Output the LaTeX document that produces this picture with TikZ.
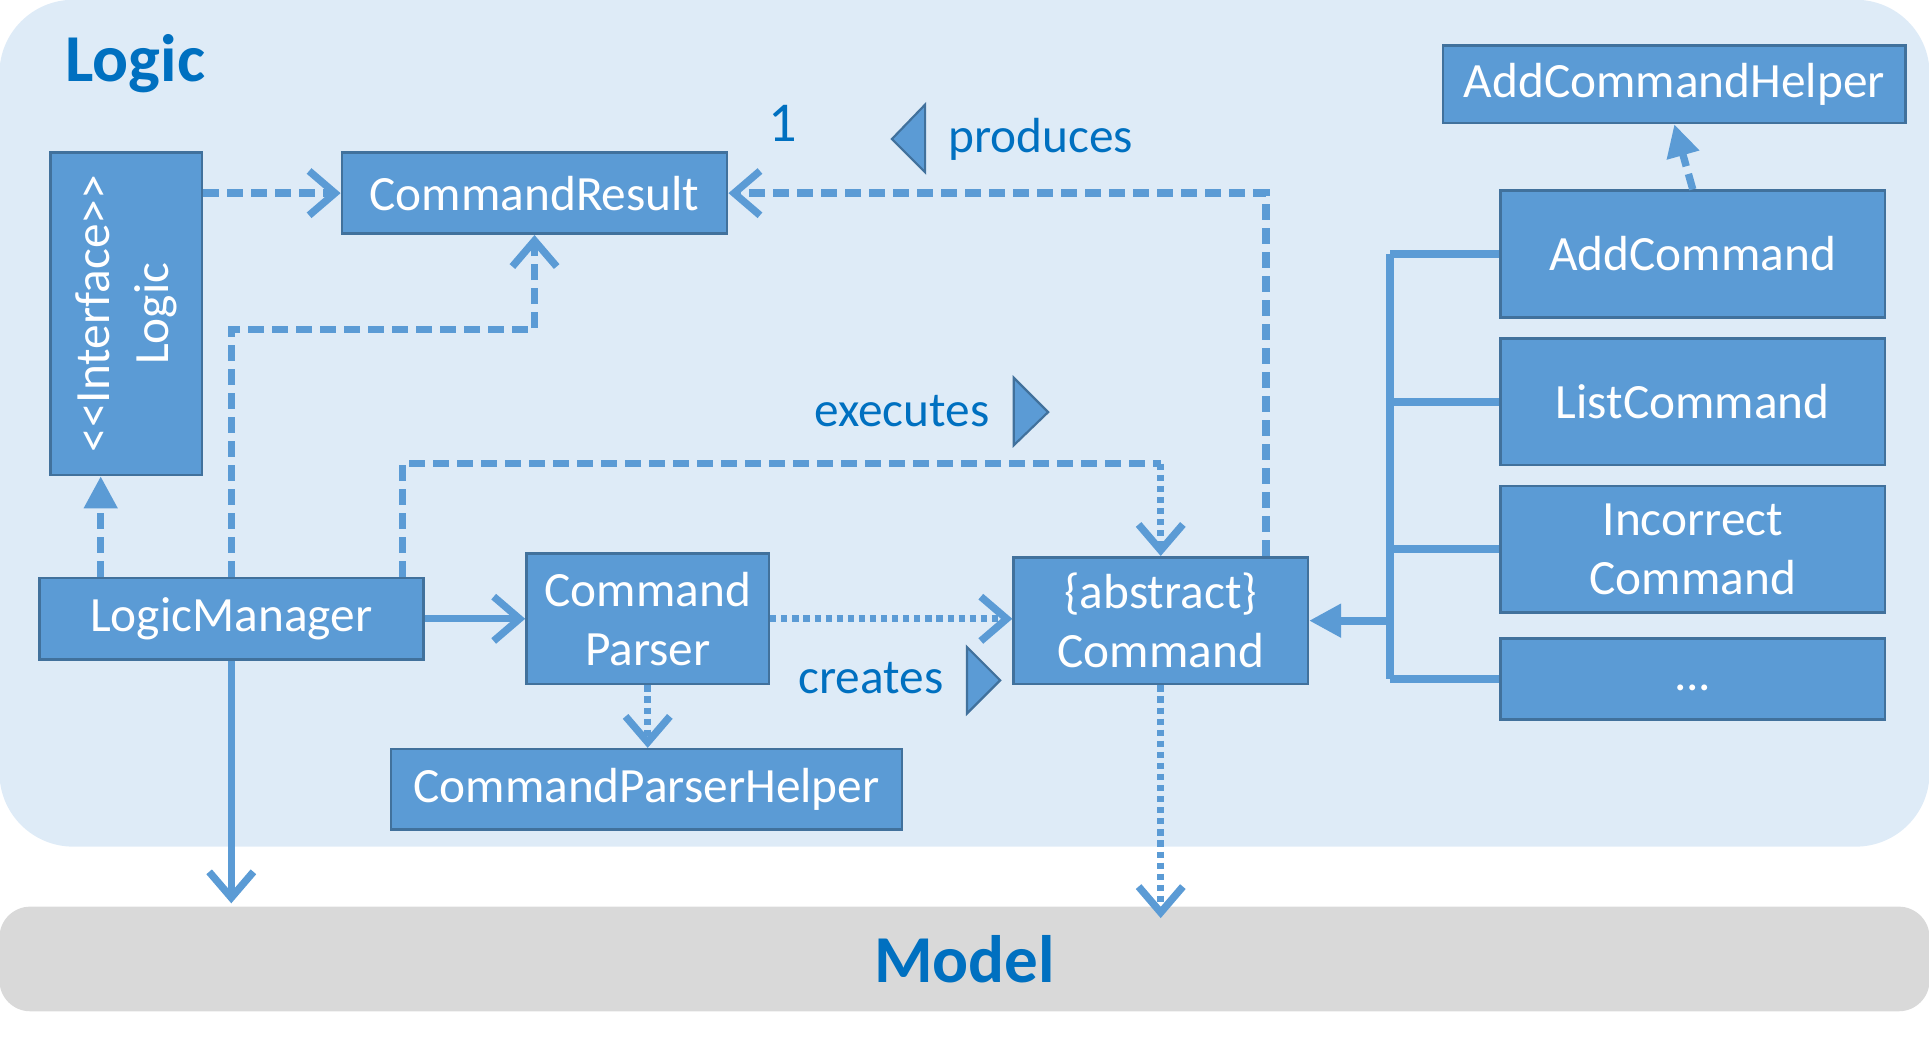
\documentclass[tikz,border=0pt]{standalone}
\usepackage{fontspec}
\setmainfont{Carlito}
\usetikzlibrary{arrows.meta, calc, positioning}
\definecolor{pkgBlue}{HTML}{DEEBF7}
\definecolor{boxBlue}{HTML}{5B9BD5}
\definecolor{boxEdge}{HTML}{41719C}
\definecolor{textBlue}{HTML}{0070C0}
\definecolor{modelGray}{HTML}{D9D9D9}

\begin{document}
\begin{tikzpicture}[x=0.01cm, y=-0.01cm,
    cls/.style={draw=boxEdge, line width=0.6pt, fill=boxBlue, text=white, align=center, inner sep=1mm, font=\fontsize{11.4}{13.7}\selectfont},
    lbl/.style={text=textBlue, font=\fontsize{11.4}{13.7}\selectfont},
    title/.style={text=textBlue, font=\fontsize{15.5}{18}\selectfont\bfseries},
    conn/.style={boxBlue, line width=1.7pt},
    dep/.style={conn, dash pattern=on 1.3mm off 0.65mm, -{Straight Barb[length=2.1mm,width=3.6mm]}},
    dotdep/.style={conn, dash pattern=on 0.5mm off 0.4mm, -{Straight Barb[length=2.1mm,width=3.6mm]}},
    assoc/.style={conn, -{Straight Barb[length=2.1mm,width=3.6mm]}},
    real/.style={conn, dash pattern=on 1.3mm off 0.65mm, -{Triangle[length=2.6mm,width=2.6mm]}},
    inh/.style={conn, line width=1.8pt},
    dirtri/.style={fill=boxBlue, draw=boxEdge, line width=0.5pt}]
    \useasboundingbox (0,0) rectangle (1568,845);

    % packages
    \node[fill=pkgBlue, rounded corners=6mm, minimum width=15.68cm, minimum height=6.88cm] (logic) at (784,344) {};
    \node[fill=modelGray, rounded corners=2.5mm, minimum width=15.68cm, minimum height=8.5mm, title] (model) at (784,779.5) {Model};
    \node[title] (logicTitle) at (110,52) {Logic};

    % classes
    \node[cls, rotate=90, minimum width=26.2mm, minimum height=12.3mm] (iface) at (102.5,255) {<{}<Interface>{}>\\Logic};
    \node[cls, minimum width=31.3mm, minimum height=6.6mm] (result) at (434.5,157) {CommandResult};
    \node[cls, minimum width=31.2mm, minimum height=6.6mm] (mgr) at (188,503) {LogicManager};
    \node[cls, minimum width=19.7mm, minimum height=10.6mm] (parser) at (526.5,503) {Command\\Parser};
    \node[cls, minimum width=41.5mm, minimum height=6.5mm] (parserHelper) at (525.5,641.5) {CommandParserHelper};
    \node[cls, minimum width=23.9mm, minimum height=10.3mm] (cmd) at (943.5,504.5) {\{abstract\}\\Command};
    \node[cls, minimum width=37.6mm, minimum height=6.3mm] (addHelper) at (1361,68.5) {AddCommandHelper};
    \node[cls, minimum width=31.2mm, minimum height=10.3mm] (add) at (1376,206.5) {AddCommand};
    \node[cls, minimum width=31.2mm, minimum height=10.3mm] (list) at (1376,326.5) {ListCommand};
    \node[cls, minimum width=31.2mm, minimum height=10.3mm] (incorrect) at (1376,446.5) {Incorrect\\Command};
    \node[cls, minimum width=31.2mm, minimum height=6.6mm] (more) at (1376,552) {\vphantom{Ag}...};

    % labels
    \node[lbl, font=\fontsize{13}{15}\selectfont] (multi) at (636,100) {1};
    \node[lbl] (produces) at (846,113) {produces};
    \node[lbl] (executes) at (733,334) {executes};
    \node[lbl] (creates) at (708,551) {creates};
    \draw[dirtri] (752,85) -- (725,113) -- (752,140) -- cycle;
    \draw[dirtri] (824,307) -- (852,335) -- (824,362) -- cycle;
    \draw[dirtri] (786,526) -- (813,553) -- (786,580) -- cycle;

    % dependencies
    \coordinate (mgrL) at ($(mgr.north west)+(51,0)$);
    \coordinate (mgrR) at ($(mgr.north east)+(-18,0)$);
    \coordinate (cmdR) at ($(cmd.north east)+(-35,0)$);
    \coordinate (execCorner) at ($(cmd.north)+(0,-75)$);
    \draw[dep] (iface.south |- result.west) -- (result.west);
    \draw[real] (mgrL) -- (mgrL |- iface.west);
    \draw[dep] (mgr.north) -- ++(0,-201) -| (result.south);
    \draw[conn, dash pattern=on 1.3mm off 0.65mm] (mgrR) |- (execCorner);
    \draw[dotdep] (execCorner) -- (cmd.north);
    \draw[dep] (cmdR) |- (result.east);
    \draw[assoc] (mgr.east) -- (parser.west);
    \draw[dotdep] (parser.east) -- (parser.east -| cmd.west);
    \draw[dotdep] (parser.south) -- (parser.south |- parserHelper.north);
    \draw[assoc] (mgr.south) -- ([yshift=0.2mm]mgr.south |- model.north);
    \draw[dotdep] (cmd.south) -- ([yshift=-1mm]cmd.south |- model.north);
    \draw[real] (add.north) -- (addHelper.south);

    % inheritance
    \coordinate (trunk) at (1130,504);
    \draw[inh] (trunk |- add.west) -- (trunk |- more.west);
    \foreach \sub in {add, list, incorrect, more}
        \draw[inh] (\sub.west) -- (\sub.west -| trunk);
    \draw[inh, -{Triangle[length=2.6mm,width=2.6mm]}] (trunk |- cmd.east) -- (cmd.east);
\end{tikzpicture}
\end{document}
